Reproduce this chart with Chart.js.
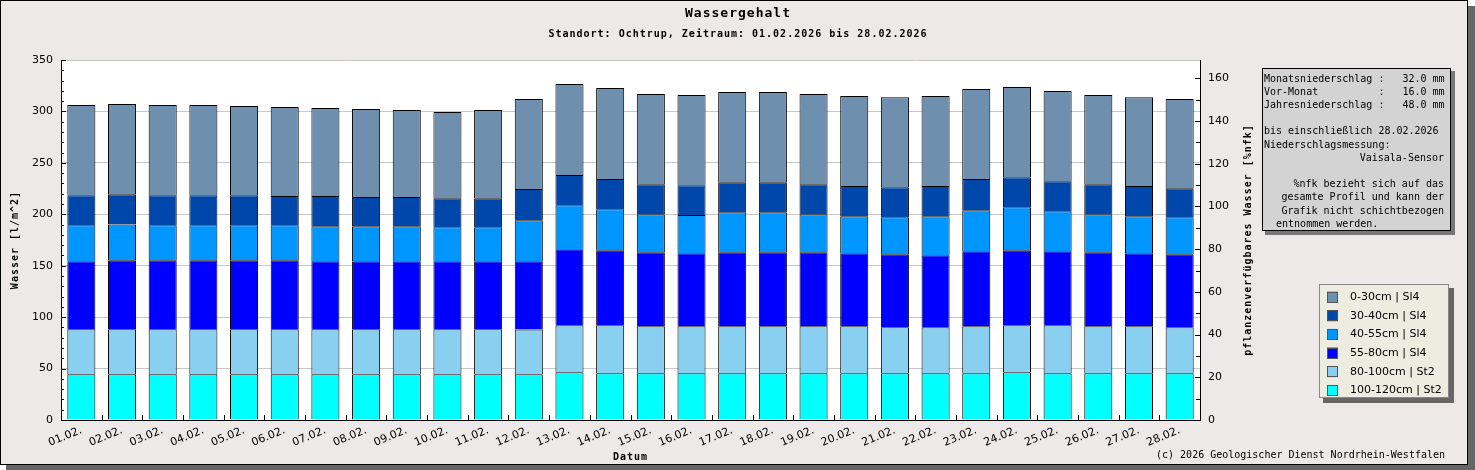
<!DOCTYPE html>
<html>
    <head>
        <meta charset="utf-8">
        <title>Wassergehalt</title>
        <script src="https://cdn.jsdelivr.net/npm/chart.js@4/dist/chart.umd.min.js"></script>
        <style>
            body { margin: 0; background: #fff; }
        </style>
    </head>

    <body>
        <canvas id="wykres" width="1475" height="470"></canvas>

        <script>
            // Tage im Februar
            var tage = ["01.02.", "02.02.", "03.02.", "04.02.", "05.02.", "06.02.", "07.02.",
                        "08.02.", "09.02.", "10.02.", "11.02.", "12.02.", "13.02.", "14.02.",
                        "15.02.", "16.02.", "17.02.", "18.02.", "19.02.", "20.02.", "21.02.",
                        "22.02.", "23.02.", "24.02.", "25.02.", "26.02.", "27.02.", "28.02."];

            // Wasser je Schicht in l/m^2 (von unten nach oben gestapelt)
            var s100_120 = [44.5, 44.5, 44.5, 44.5, 44.5, 44.5, 44.5, 44.5, 44.5, 44.5, 44.5, 44.5, 46.4, 45.4,
                            45.4, 45.4, 45.4, 45.4, 45.4, 45.4, 45.4, 45.4, 45.4, 46.4, 45.4, 45.4, 45.4, 45.4];
            var s80_100  = [43.7, 43.7, 43.7, 43.7, 43.7, 43.7, 43.7, 43.7, 43.7, 43.7, 43.7, 43.4, 45.7, 46.7,
                            45.7, 45.7, 45.7, 45.7, 45.7, 45.7, 44.8, 44.8, 45.7, 45.7, 46.7, 45.7, 45.7, 44.8];
            var s55_80   = [66.2, 67.2, 67.2, 67.2, 67.2, 67.2, 66.2, 66.2, 66.2, 66.2, 66.2, 66.5, 73.9, 73.0,
                            72.0, 71.1, 72.0, 72.0, 72.0, 71.1, 71.0, 70.0, 73.0, 73.0, 72.0, 72.0, 71.1, 71.0];
            var s40_55   = [35.0, 34.6, 34.0, 34.0, 34.0, 34.0, 34.0, 34.0, 34.0, 33.1, 33.1, 39.9, 42.9, 39.9,
                            37.0, 37.0, 39.0, 39.0, 37.0, 36.0, 36.0, 38.0, 39.9, 41.8, 38.9, 37.0, 36.0, 36.0];
            var s30_40   = [29.2, 29.6, 29.2, 29.2, 29.2, 28.3, 29.3, 28.3, 28.3, 28.2, 28.2, 30.2, 29.2, 29.2,
                            29.2, 29.1, 29.1, 29.1, 29.2, 29.2, 29.2, 29.2, 30.2, 29.2, 29.2, 29.2, 29.2, 28.2];
            var s0_30    = [87.6, 87.6, 87.6, 87.6, 86.6, 86.6, 85.6, 85.6, 84.7, 83.7, 85.7, 87.6, 88.5, 88.5,
                            87.6, 87.6, 87.6, 87.6, 87.6, 87.5, 87.5, 87.5, 87.5, 87.6, 87.6, 86.6, 86.5, 86.7];

            var linkeTicks = [0, 50, 100, 150, 200, 250, 300, 350];
            var rechteTicks = [0, 20, 40, 60, 80, 100, 120, 140, 160];
            var rechtsMax = 168.6;

            var infoZeilen = [
                ["l", "Monatsniederschlag :   32.0 mm"],
                ["l", "Vor-Monat          :   16.0 mm"],
                ["l", "Jahresniederschlag :   48.0 mm"],
                ["l", ""],
                ["l", "bis einschließlich 28.02.2026"],
                ["l", "Niederschlagsmessung:"],
                ["r", "Vaisala-Sensor"],
                ["l", ""],
                ["r", "%nfk bezieht sich auf das"],
                ["r", "gesamte Profil und kann der"],
                ["r", "Grafik nicht schichtbezogen"],
                ["l", "  entnommen werden."]
            ];

            var MONO = "'DejaVu Sans Mono', monospace";
            var SANS = "'DejaVu Sans', sans-serif";

            function linie(ctx, x1, y1, x2, y2) {
                ctx.beginPath();
                ctx.moveTo(x1, y1);
                ctx.lineTo(x2, y2);
                ctx.stroke();
            }

            var rahmen = {
                id: "rahmen",
                beforeDraw(chart) {
                    var ctx = chart.ctx, a = chart.chartArea;
                    ctx.save();
                    ctx.fillStyle = "#666666";
                    ctx.fillRect(6, 6, 1469, 464);
                    ctx.fillStyle = "#ece9e8";
                    ctx.fillRect(0, 0, 1468, 465);
                    ctx.strokeStyle = "#000";
                    ctx.lineWidth = 1;
                    ctx.strokeRect(0.5, 0.5, 1467, 464);
                    ctx.fillStyle = "#ffffff";
                    ctx.fillRect(a.left, a.top, a.right - a.left, a.bottom - a.top);
                    ctx.restore();
                },
                afterDraw(chart) {
                    var ctx = chart.ctx, a = chart.chartArea;
                    var ys = chart.scales.y, y2 = chart.scales.y2, xs = chart.scales.x;
                    ctx.save();
                    ctx.strokeStyle = "#000";
                    ctx.lineWidth = 1;

                    // Teilstriche nach innen
                    for (var v = 0; v <= 350; v += 10) {
                        var py = Math.round(ys.getPixelForValue(v)) + 0.5;
                        linie(ctx, a.left, py, a.left + (v % 50 === 0 ? 5 : 3), py);
                    }
                    for (var w = 0; w <= 160; w += 10) {
                        var qy = Math.round(y2.getPixelForValue(w)) + 0.5;
                        linie(ctx, a.right, qy, a.right - (w % 20 === 0 ? 5 : 4), qy);
                    }
                    for (var i = 1; i < tage.length; i++) {
                        var px = Math.round((xs.getPixelForValue(i - 1) + xs.getPixelForValue(i)) / 2) + 0.5;
                        linie(ctx, px, a.bottom, px, a.bottom - 5);
                    }

                    // Titel
                    ctx.fillStyle = "#000";
                    ctx.textAlign = "center";
                    ctx.textBaseline = "middle";
                    ctx.letterSpacing = "1px";
                    ctx.font = "bold 13px " + MONO;
                    ctx.fillText("Wassergehalt", 738, 14);
                    ctx.font = "bold 10px " + MONO;
                    ctx.fillText("Standort: Ochtrup, Zeitraum: 01.02.2026 bis 28.02.2026", 738, 34);
                    ctx.fillText("Datum", (a.left + a.right) / 2, 457);

                    ctx.save();
                    ctx.translate(15, (a.top + a.bottom) / 2);
                    ctx.rotate(-Math.PI / 2);
                    ctx.fillText("Wasser [l/m^2]", 0, 0);
                    ctx.restore();

                    ctx.save();
                    ctx.translate(1248, (a.top + a.bottom) / 2);
                    ctx.rotate(-Math.PI / 2);
                    ctx.fillText("pflanzenverfügbares Wasser [%nfk]", 0, 0);
                    ctx.restore();
                    ctx.letterSpacing = "0px";

                    // Infokasten
                    ctx.fillStyle = "#777777";
                    ctx.fillRect(1265, 71, 190, 164);
                    ctx.fillStyle = "#d3d3d3";
                    ctx.fillRect(1262, 68, 189, 163);
                    ctx.strokeRect(1262.5, 68.5, 188, 162);
                    ctx.fillStyle = "#000";
                    ctx.font = "10px " + MONO;
                    for (var z = 0; z < infoZeilen.length; z++) {
                        var zy = 79 + z * 13.2;
                        if (infoZeilen[z][0] === "r") {
                            ctx.textAlign = "right";
                            ctx.fillText(infoZeilen[z][1], 1444, zy);
                        } else {
                            ctx.textAlign = "left";
                            ctx.fillText(infoZeilen[z][1], 1264, zy);
                        }
                    }

                    // Legende
                    ctx.fillStyle = "#666666";
                    ctx.fillRect(1323, 288, 131, 115);
                    ctx.fillStyle = "#ecece1";
                    ctx.fillRect(1319, 284, 130, 114);
                    ctx.strokeStyle = "#888888";
                    ctx.strokeRect(1319.5, 284.5, 129, 113);
                    ctx.font = "11px " + SANS;
                    ctx.textAlign = "left";
                    var ds = chart.data.datasets;
                    for (var k = ds.length - 1, n = 0; k >= 0; k--, n++) {
                        var ly = 297 + n * 18.7;
                        ctx.fillStyle = ds[k].backgroundColor;
                        ctx.fillRect(1327, ly - 5.5, 11, 11);
                        ctx.strokeStyle = "#555555";
                        ctx.strokeRect(1327.5, Math.round(ly - 5.5) + 0.5, 10, 10);
                        ctx.fillStyle = "#000";
                        ctx.fillText(ds[k].label, 1350, ly);
                    }

                    // Fusszeile
                    ctx.font = "10px " + MONO;
                    ctx.textAlign = "right";
                    ctx.fillText("(c) 2026 Geologischer Dienst Nordrhein-Westfalen", 1445, 455);
                    ctx.restore();
                }
            };

            function schicht(label, daten, farbe) {
                return {
                    label: label,
                    data: daten,
                    backgroundColor: farbe,
                    borderColor: "#000000",
                    borderWidth: 1,
                    borderSkipped: "start",
                    categoryPercentage: 1.0,
                    barPercentage: 0.69
                };
            }

            var wykres = new Chart(document.getElementById("wykres").getContext("2d"), {
                type: "bar",
                data: {
                    labels: tage,
                    datasets: [
                        schicht("100-120cm | St2", s100_120, "#00ffff"),
                        schicht("80-100cm | St2", s80_100, "#89cff0"),
                        schicht("55-80cm | Sl4", s55_80, "#0000ff"),
                        schicht("40-55cm | Sl4", s40_55, "#0096ff"),
                        schicht("30-40cm | Sl4", s30_40, "#0047ab"),
                        schicht("0-30cm | Sl4", s0_30, "#6f8faf")
                    ]
                },
                options: {
                    responsive: false,
                    animation: false,
                    devicePixelRatio: 1,
                    layout: { padding: { top: 60, left: 0, right: 0, bottom: 0 } },
                    plugins: {
                        legend: { display: false },
                        tooltip: { enabled: false }
                    },
                    scales: {
                        x: {
                            stacked: true,
                            grid: { display: false, drawTicks: false },
                            border: { display: true, color: "#000" },
                            ticks: {
                                minRotation: 22,
                                maxRotation: 22,
                                autoSkip: false,
                                padding: 4,
                                color: "#000",
                                font: { family: SANS, size: 11 }
                            },
                            afterFit: function (s) { s.height = 50; }
                        },
                        y: {
                            stacked: true,
                            min: 0,
                            max: 350,
                            afterBuildTicks: function (s) { s.ticks = linkeTicks.map(function (t) { return { value: t }; }); },
                            grid: { color: "#c8c8c8", drawTicks: false },
                            border: { display: true, color: "#000" },
                            ticks: { padding: 8, color: "#000", font: { family: SANS, size: 11 } },
                            afterFit: function (s) { s.width = 61; }
                        },
                        y2: {
                            position: "right",
                            min: 0,
                            max: rechtsMax,
                            afterBuildTicks: function (s) { s.ticks = rechteTicks.map(function (t) { return { value: t }; }); },
                            grid: { display: false, drawTicks: false },
                            border: { display: true, color: "#000" },
                            ticks: { padding: 8, color: "#000", font: { family: SANS, size: 11 } },
                            afterFit: function (s) { s.width = 275; }
                        }
                    }
                },
                plugins: [rahmen]
            });
        </script>
    </body>
</html>
